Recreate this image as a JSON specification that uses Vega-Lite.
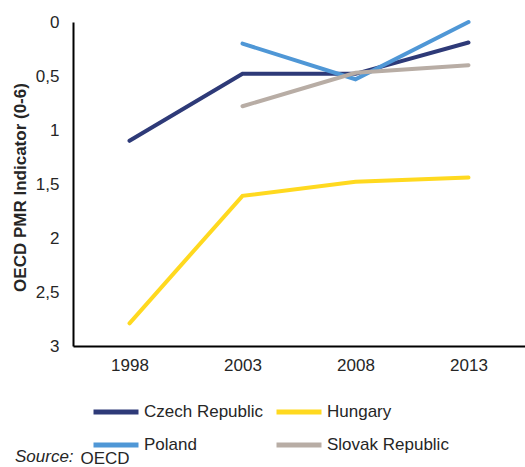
{
  "$schema": "https://vega.github.io/schema/vega-lite/v6.json",
  "autosize": "none",
  "width": 452,
  "height": 324,
  "padding": {"left": 73, "top": 22, "right": 0, "bottom": 121},
  "background": "white",
  "config": {
    "font": "Liberation Sans",
    "view": {"stroke": null},
    "axis": {"labelFont": "Liberation Sans", "titleFont": "Liberation Sans", "labelColor": "#262626", "titleColor": "#262626"}
  },
  "title": {
    "text": "Source:",
    "orient": "top",
    "anchor": "start",
    "frame": "group",
    "baseline": "alphabetic",
    "font": "Liberation Sans",
    "fontSize": 17,
    "fontStyle": "italic",
    "fontWeight": "normal",
    "color": "#262626",
    "dx": -58,
    "dy": 466,
    "offset": 0
  },
  "data": {
    "values": [
      {"country": "Czech Republic", "year": "1998", "value": 1.10},
      {"country": "Czech Republic", "year": "2003", "value": 0.48},
      {"country": "Czech Republic", "year": "2008", "value": 0.48},
      {"country": "Czech Republic", "year": "2013", "value": 0.19},
      {"country": "Hungary", "year": "1998", "value": 2.79},
      {"country": "Hungary", "year": "2003", "value": 1.61},
      {"country": "Hungary", "year": "2008", "value": 1.48},
      {"country": "Hungary", "year": "2013", "value": 1.44},
      {"country": "Poland", "year": "2003", "value": 0.20},
      {"country": "Poland", "year": "2008", "value": 0.53},
      {"country": "Poland", "year": "2013", "value": 0.0},
      {"country": "Slovak Republic", "year": "2003", "value": 0.78},
      {"country": "Slovak Republic", "year": "2008", "value": 0.47},
      {"country": "Slovak Republic", "year": "2013", "value": 0.40}
    ]
  },
  "mark": {"type": "line", "strokeWidth": 4, "strokeCap": "round", "strokeJoin": "miter"},
  "encoding": {
    "x": {
      "field": "year",
      "type": "ordinal",
      "scale": {"type": "point", "padding": 0.5},
      "axis": {
        "title": "OECD",
        "titleFontSize": 17,
        "titleFontWeight": "normal",
        "titleAnchor": "start",
        "titleAlign": "left",
        "titleBaseline": "alphabetic",
        "titleX": 7,
        "titleY": 117,
        "labelAngle": 0,
        "labelFontSize": 17,
        "labelPadding": 11,
        "ticks": false,
        "domainColor": "black",
        "domainWidth": 2,
        "grid": false
      }
    },
    "y": {
      "field": "value",
      "type": "quantitative",
      "scale": {"domain": [0, 3], "reverse": true, "nice": false, "zero": false},
      "axis": {
        "title": "OECD PMR  Indicator (0-6)",
        "titleFontSize": 17,
        "titleFontWeight": "bold",
        "titleAngle": -90,
        "titleAlign": "center",
        "titleBaseline": "middle",
        "titleX": -53,
        "titleY": 165,
        "values": [0, 0.5, 1, 1.5, 2, 2.5, 3],
        "labelExpr": "replace(toString(datum.value), '.', ',')",
        "labelFontSize": 17,
        "labelPadding": 14,
        "labelBaseline": "middle",
        "ticks": false,
        "domainColor": "black",
        "domainWidth": 2,
        "grid": false
      }
    },
    "color": {
      "field": "country",
      "type": "nominal",
      "scale": {
        "domain": ["Czech Republic", "Hungary", "Poland", "Slovak Republic"],
        "range": ["#2E3A78", "#FFD91F", "#4F97D6", "#B8ADA5"]
      },
      "legend": {
        "title": null,
        "orient": "none",
        "legendX": 29,
        "legendY": 376,
        "direction": "horizontal",
        "columns": 2,
        "gridAlign": "all",
        "columnPadding": 0,
        "rowPadding": 9,
        "symbolType": "M-2,0H2",
        "symbolSize": 506,
        "symbolStrokeWidth": 5,
        "symbolStrokeCap": "round",
        "labelFontSize": 17,
        "labelFont": "Liberation Sans",
        "labelColor": "#262626",
        "labelOffset": 14,
        "labelLimit": 300
      }
    }
  }
}
